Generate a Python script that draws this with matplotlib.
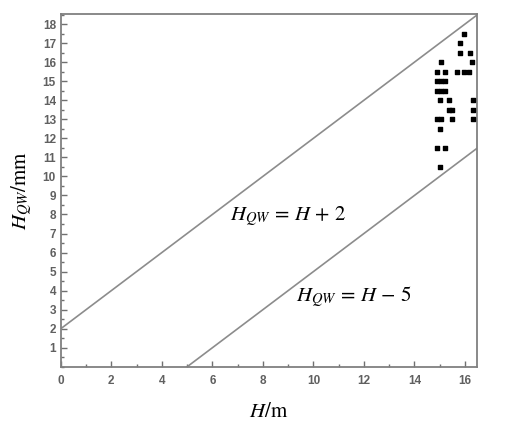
import numpy as np
import matplotlib
matplotlib.use("Agg")
import matplotlib.pyplot as plt
from matplotlib.ticker import MultipleLocator

plt.rcParams["mathtext.fontset"] = "stix"

# measured points (H, H_QW)
h_vals = [15.95, 15.8, 15.8, 16.2, 15.07, 16.27,
          14.9, 15.2, 15.67, 15.95, 16.15,
          14.9, 15.05, 15.2,
          14.9, 15.05, 15.2,
          15.03, 15.37, 16.3,
          15.35, 15.5, 16.3,
          14.9, 15.05, 15.5, 16.3,
          15.03, 14.9, 15.2, 15.03]
hqw_vals = [17.5, 17.0, 16.5, 16.5, 16.0, 16.0,
            15.5, 15.5, 15.5, 15.5, 15.5,
            15.0, 15.0, 15.0,
            14.5, 14.5, 14.5,
            14.0, 14.0, 14.0,
            13.5, 13.5, 13.5,
            13.0, 13.0, 13.0, 13.0,
            12.5, 11.5, 11.5, 10.5]

# boundary lines H_QW = H + a
offsets = [2, -5]

fig = plt.figure(figsize=(5.24, 4.43), dpi=100)
ax = fig.add_subplot(111)
fig.subplots_adjust(left=0.116, right=0.910, bottom=0.172, top=0.968)

xx = np.linspace(0, 16.47, 50)
for a in offsets:
    ax.plot(xx, xx + a, color="#8c8c8c", linewidth=1.2)

ax.scatter(h_vals, hqw_vals, marker="s", s=10, color="black", zorder=3)

ax.set_xlim(0, 16.47)
ax.set_ylim(0, 18.52)

ax.xaxis.set_major_locator(MultipleLocator(2))
ax.xaxis.set_minor_locator(MultipleLocator(1))
ax.yaxis.set_major_locator(MultipleLocator(1))
ax.yaxis.set_minor_locator(MultipleLocator(0.5))
ax.set_yticks(np.arange(1, 19, 1))

ax.tick_params(which="both", direction="in", colors="#707070",
               labelcolor="#606060", labelsize=8.5)
ax.tick_params(which="major", length=4, width=1)
ax.tick_params(which="minor", length=2, width=1)
ax.tick_params(axis="x", pad=6)
for lab in ax.get_xticklabels() + ax.get_yticklabels():
    lab.set_fontfamily("Liberation Sans")
    lab.set_fontweight("bold")

for sp in ax.spines.values():
    sp.set_color("#808080")
    sp.set_linewidth(1.3)

ax.set_xlabel(r"$H/\mathrm{m}$", fontsize=15, labelpad=10)
ax.set_ylabel(r"$H_{QW}/\mathrm{mm}$", fontsize=15, labelpad=6)

ax.text(6.7, 7.9, r"$H_{QW}\,=\,H\,+\,2$", fontsize=15, va="center")
ax.text(9.33, 3.7, r"$H_{QW}\,=\,H\,-\,5$", fontsize=15, va="center")

fig.savefig("out.png", dpi=100)
